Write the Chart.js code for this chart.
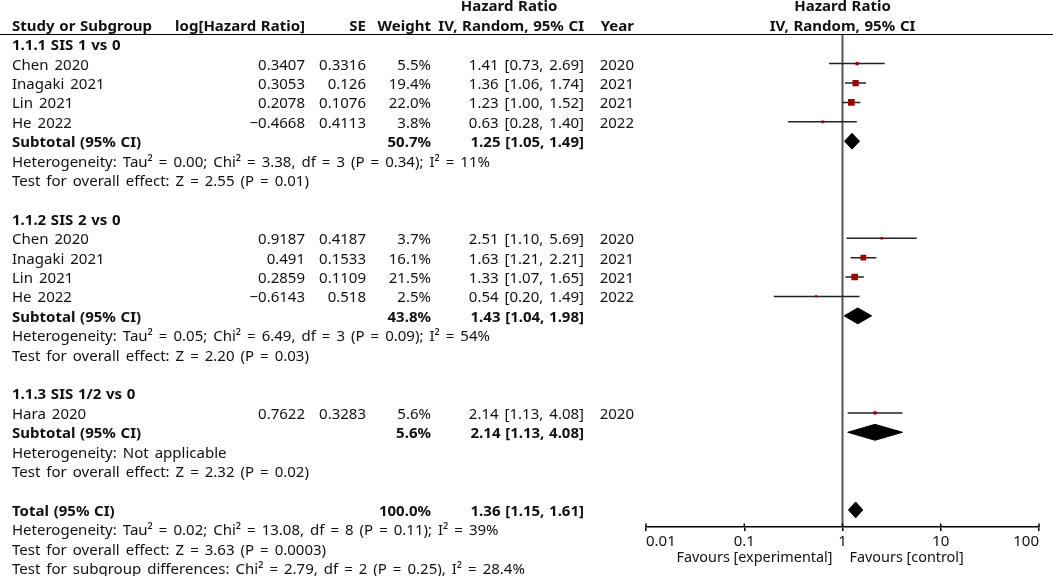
<!DOCTYPE html>
<html>
<head>
<meta charset="utf-8">
<script src="https://cdn.jsdelivr.net/npm/chart.js@4.4.1/dist/chart.umd.min.js"></script>
<style>
  body { margin: 0; background: #fff; }
  #wrap { position: relative; width: 1053px; height: 576px; overflow: hidden; font-family: 'Noto Sans', sans-serif; color: #111; }
  #wrap canvas { position: absolute; left: 0; top: 0; }
  .t { position: absolute; white-space: nowrap; font-size: 15px; line-height: 18px; word-spacing: 2.1px; }
  .b { font-weight: bold; word-spacing: 0.8px; }
  .fav { font-size: 14.4px; word-spacing: 0; }
  .hline { position: absolute; left: 0; width: 1053px; height: 0; border-top: 1.5px solid #000; }
</style>
</head>
<body>
<div id="wrap">
  <canvas id="forest" width="1053" height="576"></canvas>
</div>
<script>
// studies, in table order
var studyNames = ['Chen 2020', 'Inagaki 2021', 'Lin 2021', 'He 2022', 'Chen 2020', 'Inagaki 2021', 'Lin 2021', 'He 2022', 'Hara 2020'];
var studyGroup = [0, 0, 0, 0, 1, 1, 1, 1, 2];
var logHR = [0.3407, 0.3053, 0.2078, -0.4668, 0.9187, 0.491, 0.2859, -0.6143, 0.7622];
var seVals = [0.3316, 0.126, 0.1076, 0.4113, 0.4187, 0.1533, 0.1109, 0.518, 0.3283];
var weights = [5.5, 19.4, 22.0, 3.8, 3.7, 16.1, 21.5, 2.5, 5.6];
var hr = [1.41, 1.36, 1.23, 0.63, 2.51, 1.63, 1.33, 0.54, 2.14];
var hrLo = [0.73, 1.06, 1.00, 0.28, 1.10, 1.21, 1.07, 0.20, 1.13];
var hrHi = [2.69, 1.74, 1.52, 1.40, 5.69, 2.21, 1.65, 1.49, 4.08];
var years = [2020, 2021, 2021, 2022, 2020, 2021, 2021, 2022, 2020];

// subgroups
var groupNames = ['1.1.1 SIS 1 vs 0', '1.1.2 SIS 2 vs 0', '1.1.3 SIS 1/2 vs 0'];
var groupWeight = [50.7, 43.8, 5.6];
var groupHR = [1.25, 1.43, 2.14];
var groupLo = [1.05, 1.04, 1.13];
var groupHi = [1.49, 1.98, 4.08];
var groupHet = [
    'Heterogeneity: Tau² = 0.00; Chi² = 3.38, df = 3 (P = 0.34); I² = 11%',
    'Heterogeneity: Tau² = 0.05; Chi² = 6.49, df = 3 (P = 0.09); I² = 54%',
    'Heterogeneity: Not applicable'
];
var groupTest = [
    'Test for overall effect: Z = 2.55 (P = 0.01)',
    'Test for overall effect: Z = 2.20 (P = 0.03)',
    'Test for overall effect: Z = 2.32 (P = 0.02)'
];

// overall
var totalWeight = 100.0;
var totalHR = 1.36, totalLo = 1.15, totalHi = 1.61;
var totalNotes = [
    'Heterogeneity: Tau² = 0.02; Chi² = 13.08, df = 8 (P = 0.11); I² = 39%',
    'Test for overall effect: Z = 3.63 (P = 0.0003)',
    'Test for subgroup differences: Chi² = 2.79, df = 2 (P = 0.25), I² = 28.4%'
];

var tickValues = [0.01, 0.1, 1, 10, 100];

// work out which table row every line sits on
var studyRow = [], groupRow = [], subRow = [];
var row = 0;
groupNames.forEach(function (g, gi) {
    groupRow[gi] = row++;
    studyNames.forEach(function (s, i) {
        if (studyGroup[i] === gi) studyRow[i] = row++;
    });
    subRow[gi] = row++;
    row += 3; // heterogeneity, overall effect, blank
});
var totalRow = row;

var DIAMOND_H = 0.41; // half height of a diamond, in rows
var AXIS_ROW = 24.88;

function diamond(lo, est, hi, r) {
    return {
        type: 'line',
        data: [{x: lo, y: r}, {x: est, y: r - DIAMOND_H}, {x: hi, y: r}, {x: est, y: r + DIAMOND_H}, {x: lo, y: r}],
        fill: 'shape',
        backgroundColor: '#000',
        borderColor: '#000',
        borderWidth: 1,
        pointRadius: 0,
        order: 1
    };
}

var datasets = [];

// study squares, area follows the weight
datasets.push({
    type: 'scatter',
    data: hr.map(function (v, i) { return {x: v, y: studyRow[i]}; }),
    pointStyle: 'rect',
    pointRadius: function (ctx) { return Math.sqrt(weights[ctx.dataIndex]); },
    backgroundColor: '#a00000',
    borderWidth: 0,
    order: 0
});

groupHR.forEach(function (v, gi) {
    datasets.push(diamond(groupLo[gi], v, groupHi[gi], subRow[gi]));
});
datasets.push(diamond(totalLo, totalHR, totalHi, totalRow));

// confidence interval whiskers
hr.forEach(function (v, i) {
    datasets.push({
        type: 'line',
        data: [{x: hrLo[i], y: studyRow[i]}, {x: hrHi[i], y: studyRow[i]}],
        borderColor: '#222',
        borderWidth: 1.5,
        pointRadius: 0,
        order: 2
    });
});

// line of no effect
datasets.push({
    type: 'line',
    data: [{x: 1, y: -0.5}, {x: 1, y: AXIS_ROW}],
    borderColor: '#555',
    borderWidth: 2,
    pointRadius: 0,
    order: 3
});

var tickUp = {
    id: 'tickUp',
    afterDraw: function (chart) {
        var ctx = chart.ctx, xs = chart.scales.x, bottom = chart.chartArea.bottom;
        ctx.save();
        ctx.strokeStyle = '#000';
        ctx.lineWidth = 1.5;
        tickValues.forEach(function (v) {
            var px = xs.getPixelForValue(v);
            ctx.beginPath();
            ctx.moveTo(px, bottom - 3.5);
            ctx.lineTo(px, bottom);
            ctx.stroke();
        });
        ctx.restore();
    }
};

var chart = new Chart(document.getElementById('forest'), {
    type: 'scatter',
    data: {datasets: datasets},
    options: {
        responsive: false,
        animation: false,
        events: [],
        layout: {padding: {left: 646, right: 14, top: 34.5, bottom: 0}},
        plugins: {legend: {display: false}, tooltip: {enabled: false}},
        scales: {
            x: {
                type: 'logarithmic',
                min: 0.01,
                max: 100,
                afterBuildTicks: function (s) {
                    s.ticks = tickValues.map(function (v) { return {value: v}; });
                },
                afterFit: function (s) { s.height = 49; },
                grid: {display: true, drawOnChartArea: false, drawTicks: true, tickLength: 4, color: '#000', lineWidth: 1.5},
                border: {display: true, color: '#000', width: 1.5},
                ticks: {
                    align: 'inner',
                    autoSkip: false,
                    maxRotation: 0,
                    padding: 2,
                    color: '#111',
                    font: {family: 'Noto Sans', size: 15},
                    callback: function (v) { return String(v); }
                }
            },
            y: {type: 'linear', reverse: true, min: -0.5, max: AXIS_ROW, display: false}
        }
    },
    plugins: [tickUp]
});

// table text, placed on the same rows as the chart
var wrap = document.getElementById('wrap');
var ys = chart.scales.y;
var xs = chart.scales.x;

function put(text, x, r, align, cls, py) {
    var d = document.createElement('div');
    d.className = 't' + (cls ? ' ' + cls : '');
    d.textContent = text;
    var y = py !== undefined ? py : ys.getPixelForValue(r);
    d.style.top = (y - 9) + 'px';
    if (align === 'right') {
        d.style.right = (1053 - x) + 'px';
    } else if (align === 'center') {
        d.style.left = x + 'px';
        d.style.transform = 'translateX(-50%)';
    } else {
        d.style.left = x + 'px';
    }
    wrap.appendChild(d);
}

function num(v) { return String(v).replace('-', '\u2212'); }
function ci(e, l, h) { return e.toFixed(2) + ' [' + l.toFixed(2) + ', ' + h.toFixed(2) + ']'; }

var COL_STUDY = 12, COL_LOG = 305, COL_SE = 366, COL_W = 431, COL_CI = 584, COL_YEAR = 634;
var plotMid = xs.getPixelForValue(1);

// header
put('Hazard Ratio', 509, -2, 'center', 'b');
put('Hazard Ratio', plotMid, -2, 'center', 'b');
put('Study or Subgroup', COL_STUDY, -1, 'left', 'b');
put('log[Hazard Ratio]', COL_LOG, -1, 'right', 'b');
put('SE', COL_SE, -1, 'right', 'b');
put('Weight', COL_W, -1, 'right', 'b');
put('IV, Random, 95% CI', COL_CI, -1, 'right', 'b');
put('Year', COL_YEAR, -1, 'right', 'b');
put('IV, Random, 95% CI', plotMid, -1, 'center', 'b');

var hl = document.createElement('div');
hl.className = 'hline';
hl.style.top = (chart.chartArea.top - 0.75) + 'px';
wrap.appendChild(hl);

groupNames.forEach(function (g, gi) {
    put(g, COL_STUDY, groupRow[gi], 'left', 'b');
    studyNames.forEach(function (s, i) {
        if (studyGroup[i] !== gi) return;
        var r = studyRow[i];
        put(s, COL_STUDY, r, 'left');
        put(num(logHR[i]), COL_LOG, r, 'right');
        put(num(seVals[i]), COL_SE, r, 'right');
        put(weights[i].toFixed(1) + '%', COL_W, r, 'right');
        put(ci(hr[i], hrLo[i], hrHi[i]), COL_CI, r, 'right');
        put(String(years[i]), COL_YEAR, r, 'right');
    });
    put('Subtotal (95% CI)', COL_STUDY, subRow[gi], 'left', 'b');
    put(groupWeight[gi].toFixed(1) + '%', COL_W, subRow[gi], 'right', 'b');
    put(ci(groupHR[gi], groupLo[gi], groupHi[gi]), COL_CI, subRow[gi], 'right', 'b');
    put(groupHet[gi], COL_STUDY, subRow[gi] + 1, 'left');
    put(groupTest[gi], COL_STUDY, subRow[gi] + 2, 'left');
});

put('Total (95% CI)', COL_STUDY, totalRow, 'left', 'b');
put(totalWeight.toFixed(1) + '%', COL_W, totalRow, 'right', 'b');
put(ci(totalHR, totalLo, totalHi), COL_CI, totalRow, 'right', 'b');
totalNotes.forEach(function (n, k) {
    put(n, COL_STUDY, totalRow + 1 + k, 'left');
});

// favours labels under the axis
var favY = chart.chartArea.bottom + 30;
put('Favours [experimental]', plotMid - 10, 0, 'right', 'fav', favY);
put('Favours [control]', plotMid + 7, 0, 'left', 'fav', favY);
</script>
</body>
</html>
